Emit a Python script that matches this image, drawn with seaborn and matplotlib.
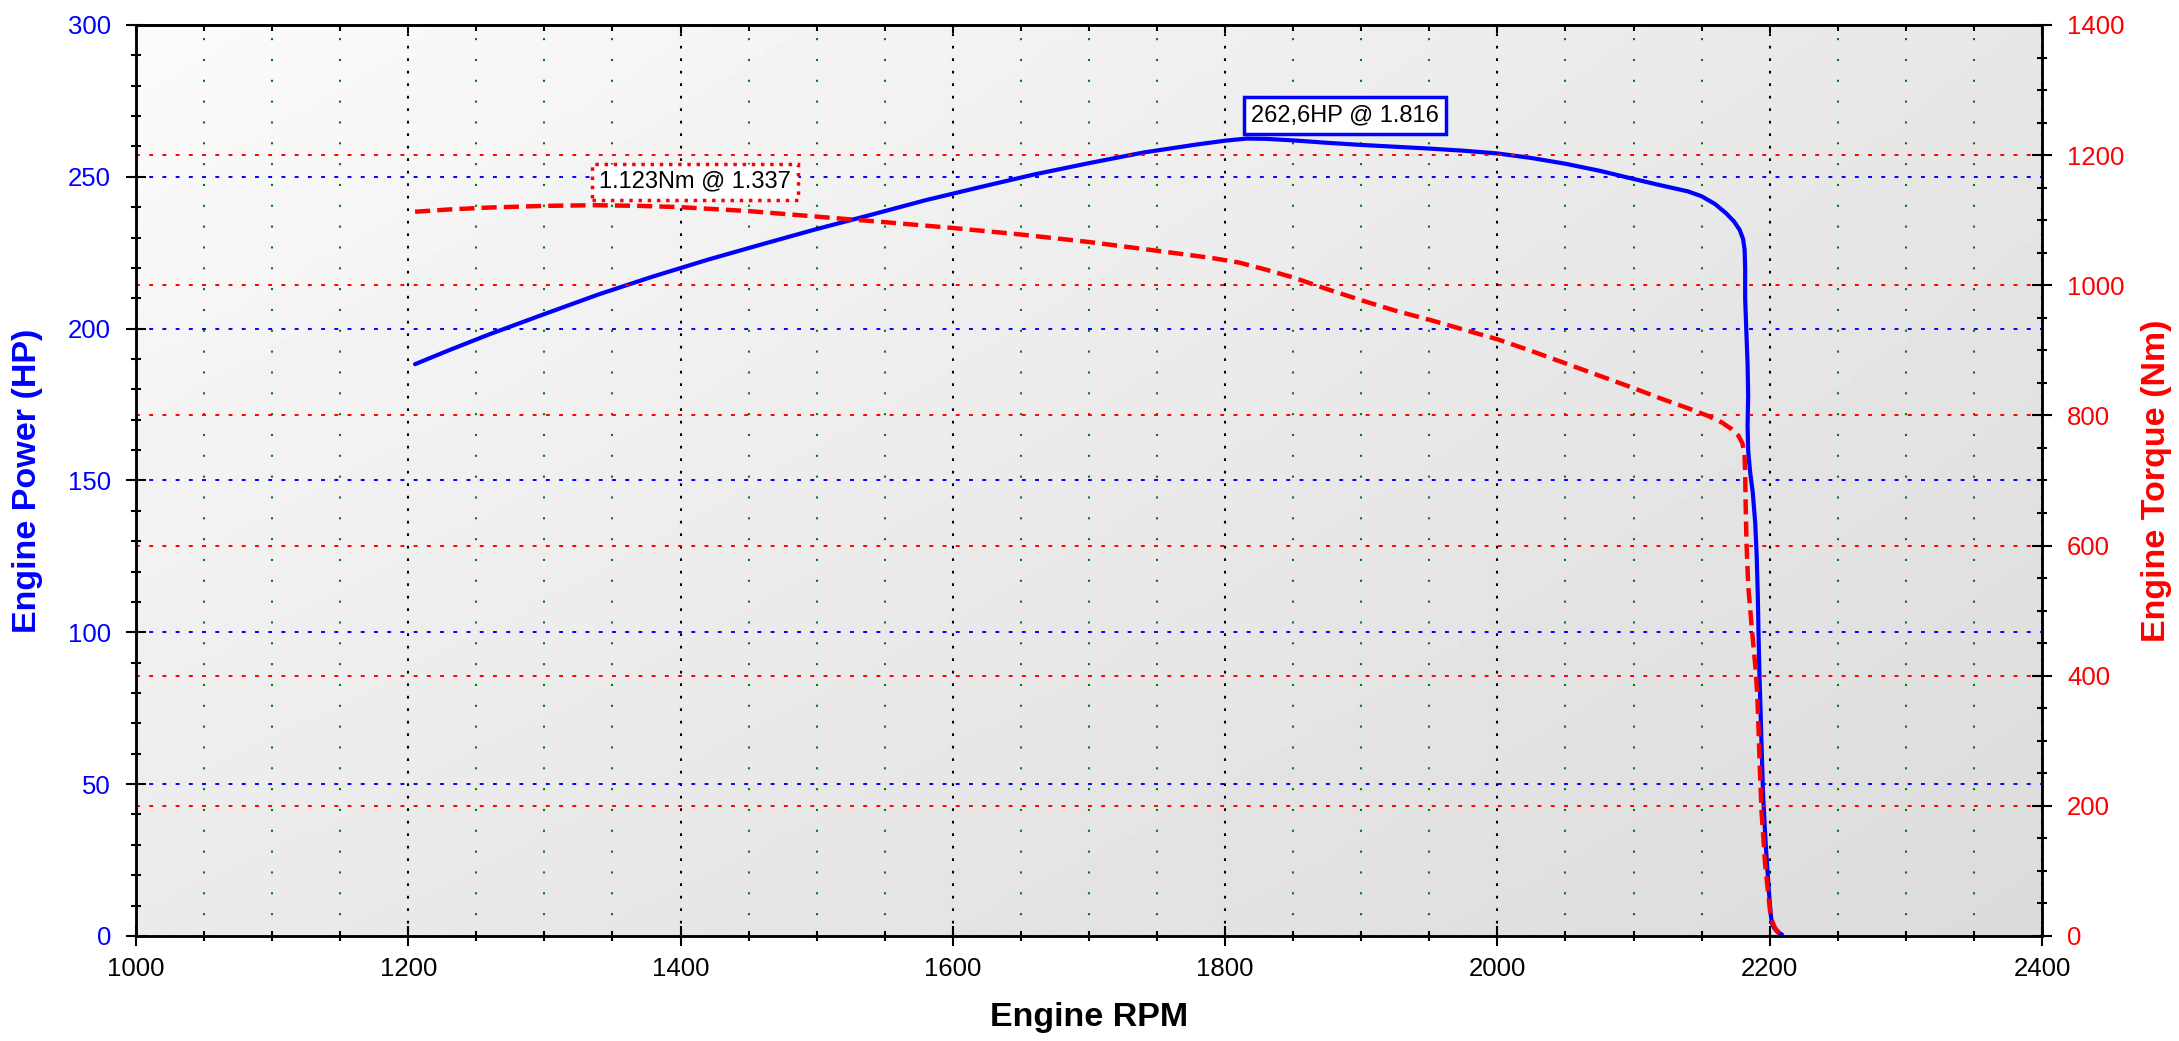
"""Engine power / torque curve with twin y axes."""

import numpy as np
import pandas as pd
import seaborn as sns
import matplotlib.pyplot as plt
from matplotlib.ticker import MultipleLocator

# power curve (HP)
rpm_power = [1205, 1230, 1260, 1300, 1340, 1380, 1420, 1460, 1500, 1540,
             1580, 1620, 1660, 1700, 1740, 1780, 1800, 1816, 1830, 1850,
             1875, 1900, 1925, 1950, 1975, 2000, 2025, 2050, 2075, 2100,
             2120, 2140, 2150, 2160, 2168, 2174, 2178, 2180.5, 2181.6, 2182,
             2182, 2182.8, 2183.8, 2184.2, 2183.8, 2184.2, 2185.6, 2187.6, 2189.4, 2190.5,
             2191.3, 2191.8, 2192.5, 2193.2, 2194.1, 2195.2, 2197.2, 2199.4, 2200.8, 2201.8,
             2203.5, 2206, 2209]
power_hp = [188.3, 192.9, 198.2, 204.8, 211.3, 217.2, 222.7, 227.8, 232.8, 237.5,
            242.3, 246.6, 250.8, 254.5, 258.0, 260.7, 261.9, 262.6, 262.5, 262.0,
            261.2, 260.5, 259.9, 259.3, 258.6, 257.7, 256.2, 254.3, 252.0, 249.3,
            247.2, 245.2, 243.6, 241.0, 238.0, 235.2, 232.5, 229.5, 226.0, 220.0,
            210.0, 200.0, 188.0, 178.0, 168.0, 160.0, 153.0, 146.0, 136.0, 125.0,
            112.0, 100.0, 86.0, 76.0, 62.0, 46.0, 29.5, 15.0, 7.0, 4.0,
            2.5, 1.2, 0.5]

# torque curve (Nm)
rpm_torque = [1205, 1230, 1260, 1300, 1337, 1370, 1400, 1450, 1500, 1550,
              1600, 1650, 1700, 1750, 1790, 1810, 1830, 1850, 1875, 1900,
              1925, 1950, 1975, 2000, 2025, 2050, 2075, 2100, 2120, 2140,
              2155, 2165, 2172, 2177, 2180, 2181.5, 2182, 2182.3, 2183, 2184.3,
              2186.8, 2189.5, 2190.9, 2191.8, 2192.9, 2194.1, 2195.4, 2196.6, 2198.4, 2200.2,
              2202, 2204, 2206.5, 2209]
torque_nm = [1113, 1116.5, 1119.5, 1122, 1123, 1122, 1120, 1114, 1105.5, 1097,
             1088, 1078, 1066.5, 1053, 1042, 1035, 1024, 1012, 994, 977,
             961, 947, 932, 917, 899, 880, 861, 842, 826, 811,
             799, 789, 779, 769, 757, 740, 715, 670, 603, 537,
             475, 414, 370, 320, 250, 189, 150, 112, 75, 40,
             22, 12, 6, 2]

peak_power_label = "262,6HP @ 1.816"
peak_torque_label = "1.123Nm @ 1.337"

power_df = pd.DataFrame({"rpm": rpm_power, "hp": power_hp})
torque_df = pd.DataFrame({"rpm": rpm_torque, "nm": torque_nm})

sns.set_style("white", {"text.color": "black", "xtick.color": "black",
                        "ytick.color": "black", "axes.labelcolor": "black"})
plt.rcParams["font.family"] = ["Liberation Sans", "DejaVu Sans"]

fig = plt.figure(figsize=(21.79, 10.41), dpi=100)
ax = fig.add_axes([0.0624, 0.1009, 0.8747, 0.8751])
ax2 = ax.twinx()

# light diagonal grey gradient behind the plot
gx = np.linspace(0, 1, 200)
gy = np.linspace(0, 1, 200)
bg = 0.985 - 0.08 * gx[None, :] - 0.065 * gy[:, None] + 0.02 * gx[None, :] * gy[:, None]
ax.imshow(bg, extent=(1000, 2400, 0, 300), aspect="auto", cmap="gray",
          vmin=0, vmax=1, zorder=0, origin="upper")

sns.lineplot(data=power_df, x="rpm", y="hp", sort=False, estimator=None,
             color="blue", linewidth=3, ax=ax, zorder=3)
sns.lineplot(data=torque_df, x="rpm", y="nm", sort=False, estimator=None,
             color="red", linewidth=3.2, linestyle=(0, (3.4, 1.6)), ax=ax2, zorder=3)

ax.set_xlim(1000, 2400)
ax.set_ylim(0, 300)
ax2.set_ylim(0, 1400)

ax.xaxis.set_major_locator(MultipleLocator(200))
ax.xaxis.set_minor_locator(MultipleLocator(50))
ax.yaxis.set_major_locator(MultipleLocator(50))
ax.yaxis.set_minor_locator(MultipleLocator(10))
ax2.yaxis.set_major_locator(MultipleLocator(200))
ax2.yaxis.set_minor_locator(MultipleLocator(50))

ax.set_axisbelow(True)
ax.grid(which="major", axis="x", color="black", linestyle=(0, (1.3, 4.7)), linewidth=1.5)
ax.grid(which="minor", axis="x", color="green", linestyle=(0, (1, 9)), linewidth=1.5)
ax.grid(which="major", axis="y", color="blue", linestyle=(0, (2, 4.8)), linewidth=1.4)
ax2.grid(which="major", axis="y", color="red", linestyle=(0, (2, 4.8)), linewidth=1.4)
ax2.grid(which="major", axis="x", visible=False)

ax.tick_params(which="major", direction="inout", length=14, width=1.5,
               bottom=True, left=True, labelsize=18.5, color="black")
ax.tick_params(which="minor", direction="inout", length=7, width=1.5,
               bottom=True, left=True, color="black")
ax.tick_params(axis="x", pad=8, labelcolor="black")
ax.tick_params(axis="y", labelcolor="blue", pad=11)
ax2.tick_params(which="major", direction="inout", length=14, width=1.5,
                right=True, labelsize=18.5, labelcolor="red", pad=11, color="black")
ax2.tick_params(which="minor", direction="inout", length=7, width=1.5,
                right=True, color="black")

top = ax.secondary_xaxis("top")
top.xaxis.set_major_locator(MultipleLocator(200))
top.xaxis.set_minor_locator(MultipleLocator(50))
top.tick_params(which="major", direction="in", length=6, width=1.5, labeltop=False)
top.tick_params(which="minor", direction="in", length=4, width=1.5)
top.spines["top"].set_linewidth(1.8)

for a in (ax, ax2):
    for sp in a.spines.values():
        sp.set_color("black")
        sp.set_linewidth(1.8)

ax.set_xlabel("Engine RPM", fontsize=24.5, fontweight="bold", color="black")
ax.set_ylabel("Engine Power (HP)", fontsize=24.5, fontweight="bold", color="blue")
ax2.set_ylabel("Engine Torque (Nm)", fontsize=24.5, fontweight="bold", color="red")
ax.xaxis.set_label_coords(0.5, -0.072)
ax.yaxis.set_label_coords(-0.049, 0.5)
ax2.yaxis.set_label_coords(1.052, 0.5)

ax.text(1819, 270.2, peak_power_label, ha="left", va="center", fontsize=17, zorder=5,
        color="black",
        bbox=dict(boxstyle="square,pad=0.3", fc="white", ec="blue", lw=2.5))
ax2.text(1340, 1159, peak_torque_label, ha="left", va="center", fontsize=17, zorder=5,
         color="black",
         bbox=dict(boxstyle="square,pad=0.3", fc="white", ec="red", lw=2.5, ls=":"))

plt.savefig("out.png", dpi=100)
